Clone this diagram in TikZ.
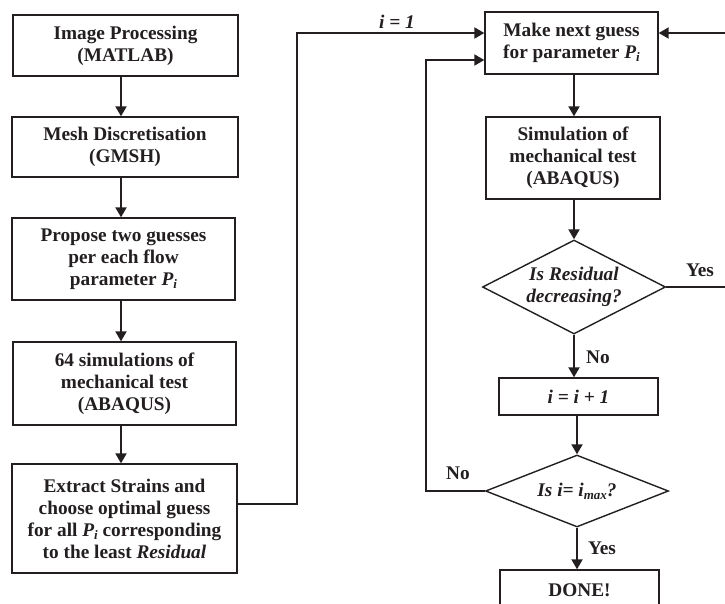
\documentclass[tikz,border=0pt]{standalone}
\usepackage{fontspec}
\setmainfont{Liberation Serif}
\usetikzlibrary{shapes.geometric,arrows.meta}
\definecolor{ink}{RGB}{35,31,32}
\newcommand{\ParPi}{\textit{P}\raisebox{-0.35ex}{\fontsize{13}{13}\selectfont\textit{i}}}
\begin{document}
\begin{tikzpicture}[x=1pt,y=-1pt,
  every node/.style={font=\fontsize{19.3}{22}\selectfont\bfseries, text=ink},
  box/.style={draw=ink, line width=1.4pt, rectangle, inner sep=0pt, align=center},
  dia/.style={draw=ink, line width=1.4pt, diamond, inner sep=0pt, aspect=1},
  conn/.style={draw=ink, line width=2pt},
  arr/.style={conn, -{Triangle[length=10pt,width=11pt]}},
  lbl/.style={inner sep=0pt, align=center}]
\clip (0,0) rectangle (725,603);
\fill[white] (0,0) rectangle (725,603);
% left column
\node[box, minimum width=225, minimum height=61] (b1) at (125.5,45.5) {Image Processing\\(MATLAB)};
\node[box, minimum width=226, minimum height=60] (b2) at (125,147) {Mesh Discretisation\\(GMSH)};
\node[box, minimum width=223, minimum height=82] (b3) at (123.5,259) {Propose two guesses\\per each flow\\parameter \ParPi};
\node[box, minimum width=223, minimum height=83] (b4) at (124.5,383.5) {64 simulations of\\mechanical test\\(ABAQUS)};
\node[box, minimum width=225, minimum height=109] (b5) at (124.5,518.5) {Extract Strains and\\choose optimal guess\\for all \ParPi{} corresponding\\to the least \textit{Residual}};
\coordinate (ax) at (121,0);
\draw[arr] (b1.south -| ax) -- (b2.north -| ax);
\draw[arr] (b2.south -| ax) -- (b3.north -| ax);
\draw[arr] (b3.south -| ax) -- (b4.north -| ax);
\draw[arr] (b4.south -| ax) -- (b5.north -| ax);
% right column
\node[box, minimum width=173, minimum height=62] (next) at (571.5,43) {Make next guess\\for parameter \ParPi};
\node[box, minimum width=174, minimum height=82] (sim) at (573,158) {Simulation of\\mechanical test\\(ABAQUS)};
\node[dia, minimum width=183, minimum height=94] (d1) at (574,287) {};
\node[lbl] (d1t) at (574,287) {\textit{Is Residual}\\\textit{decreasing?}};
\node[box, minimum width=159, minimum height=37] (inc) at (578.5,396.5) {\textit{i = i + 1}};
\node[dia, minimum width=183, minimum height=72] (d2) at (577,491) {};
\node[lbl] (d2t) at (577,491) {\textit{Is i= i\raisebox{-0.35ex}{\fontsize{13}{13}\selectfont max}?}};
\node[box, minimum width=159, minimum height=40] (done) at (579.5,590) {DONE!};
\coordinate (rx) at (574,0);
\draw[arr] (next.south -| rx) -- (sim.north -| rx);
\draw[arr] (sim.south -| rx) -- (d1.north);
\draw[arr] (d1.south) -- (inc.north -| d1.south);
\draw[arr] (inc.south -| d2.north) -- (d2.north);
\draw[arr] (d2.south) -- (done.north -| d2.south);
% connectors
\coordinate (ya) at (0,33);
\coordinate (yb) at (0,60);
\coordinate (c1) at (297,504);
\coordinate (c2) at (426,491);
\coordinate (c3) at (740,287);
\draw[arr] (b5.east |- c1) -- (c1) |- (next.west |- ya);
\draw[arr] (d2.west) -- (c2) |- (next.west |- yb);
\draw[arr] (d1.east) -- (c3) |- (next.east |- ya);
% labels
\node[lbl] (l1) at (397,22) {\textit{i = 1}};
\node[lbl] (l2) at (700,270) {Yes};
\node[lbl] (l3) at (598,357) {No};
\node[lbl] (l4) at (458,473) {No};
\node[lbl] (l5) at (602,548) {Yes};
\end{tikzpicture}
\end{document}
